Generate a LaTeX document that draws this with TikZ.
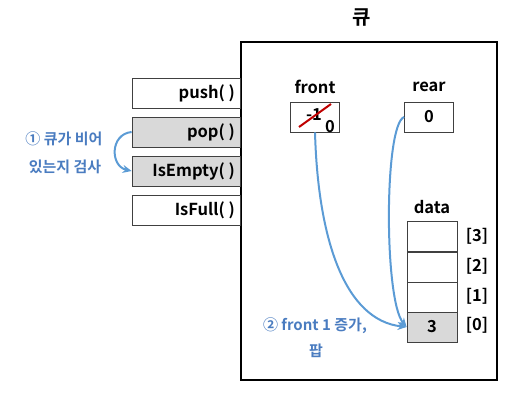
\documentclass[tikz,border=0pt]{standalone}
\usepackage{fontspec}
\setmainfont{Noto Sans CJK KR}[BoldFont={Noto Sans CJK KR Bold}]
\usetikzlibrary{arrows.meta}
\definecolor{txtblue}{HTML}{4A7CC0}
\definecolor{lineblue}{HTML}{5B9BD5}
\definecolor{cellgray}{HTML}{D9D9D9}
\definecolor{edgegray}{HTML}{404040}
\tikzset{
  fnbox/.style={draw=edgegray, line width=0.8pt, minimum width=108pt, minimum height=30pt, inner sep=0pt},
  valbox/.style={draw=edgegray, line width=0.8pt, minimum width=49pt, minimum height=30pt, inner sep=0pt, font=\bfseries\fontsize{16.5}{18}\selectfont},
  cellbox/.style={draw=edgegray, line width=0.8pt, minimum width=50pt, minimum height=30pt, inner sep=0pt, font=\bfseries\fontsize{16.5}{18}\selectfont},
  lbl/.style={font=\bfseries\fontsize{16.5}{18}\selectfont, inner sep=0pt},
  note/.style={font=\bfseries\fontsize{15}{17}\selectfont, text=txtblue, inner sep=0pt},
  flow/.style={draw=lineblue, line width=2pt, -{Stealth[length=9pt,width=8pt]}}
}
\begin{document}
\begin{tikzpicture}[x=1pt,y=-1pt]
\useasboundingbox (0,0) rectangle (521,399);
% main queue frame
\node[draw=black, line width=2.2pt, minimum width=256pt, minimum height=338pt, inner sep=0pt] (queue) at (369,211) {};
\node[font=\bfseries\fontsize{20}{22}\selectfont, inner sep=0pt] (title) at (362,18) {큐};
% function boxes
\node[fnbox, fill=white] (push) at (186,93) {};
\node[lbl, anchor=east] (pusht) at (235,93) {push( )};
\node[fnbox, fill=cellgray] (pop) at (186,132) {};
\node[lbl, anchor=east] (popt) at (235,132) {pop( )};
\node[fnbox, fill=cellgray] (isempty) at (186,171) {};
\node[lbl, anchor=east] (isemptyt) at (235,171) {IsEmpty( )};
\node[fnbox, fill=white] (isfull) at (186,210) {};
\node[lbl, anchor=east] (isfullt) at (235,210) {IsFull( )};
% note 1
\node[note] (n1a) at (64,139) {① 큐가 비어};
\node[note] (n1b) at (65,167) {있는지 검사};
\draw[flow] (pop.west) .. controls (110,134) and (110,166) .. (isempty.west);
% front / rear
\node[lbl] (frontl) at (315,87) {front};
\node[valbox] (front) at (315,117) {};
\node[lbl] (frontold) at (314,115) {-1};
\draw[red!75!black, line width=2pt] (299,127) -- (331,104);
\node[lbl] (frontnew) at (330,127) {0};
\node[lbl] (rearl) at (429,87) {rear};
\node[valbox] (rear) at (429,117) {0};
% data
\node[lbl] (datal) at (432,207) {data};
\node[cellbox] (d3) at (432,236) {};
\node[cellbox] (d2) at (432,267) {};
\node[cellbox] (d1) at (432,297) {};
\node[cellbox, fill=cellgray] (d0) at (432,327) {3};
\node[lbl] (i3) at (477,236) {[3]};
\node[lbl] (i2) at (477,266) {[2]};
\node[lbl] (i1) at (477,296) {[1]};
\node[lbl] (i0) at (477,325) {[0]};
% arrows
\draw[flow] (rear.west) .. controls (384,125) and (384,300) .. (d0.west);
\draw[flow] (front.south) .. controls (318,240) and (345,320) .. (d0.west);
% note 2
\node[note] (n2a) at (315,326) {② front 1 증가,};
\node[note] (n2b) at (316,351) {팝};
\end{tikzpicture}
\end{document}
